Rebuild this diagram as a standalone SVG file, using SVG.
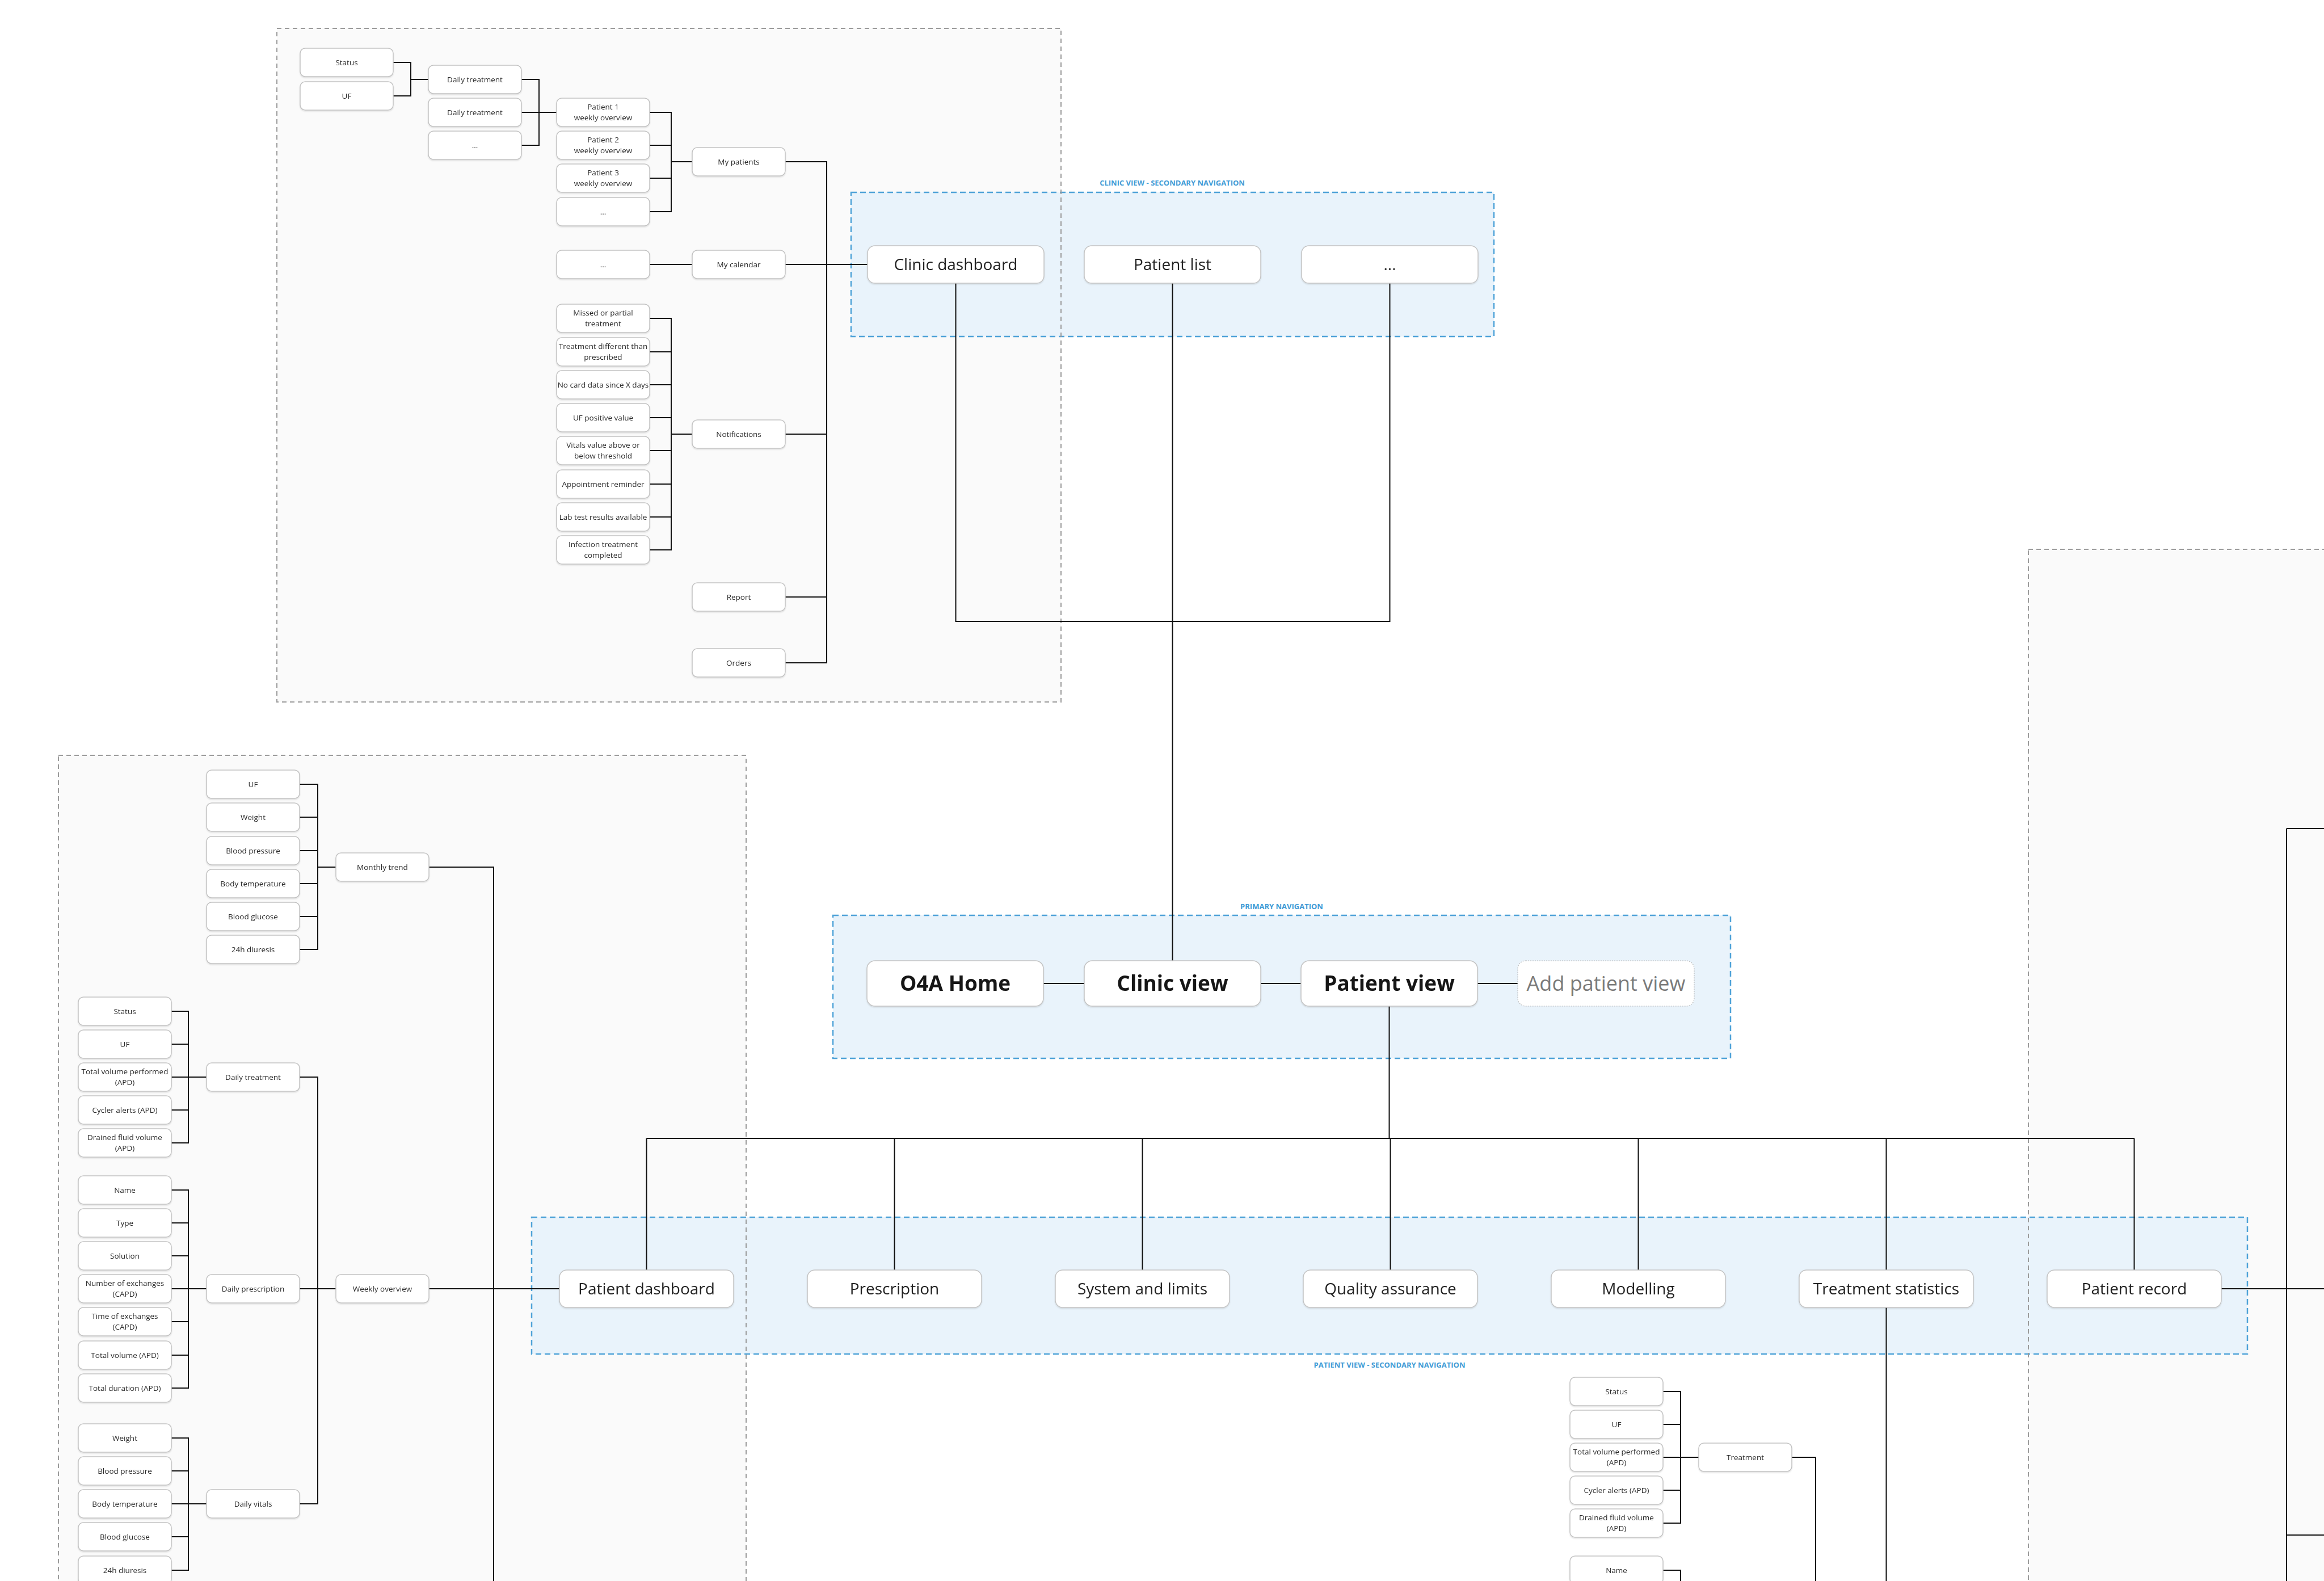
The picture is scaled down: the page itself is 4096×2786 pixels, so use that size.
<svg xmlns="http://www.w3.org/2000/svg" width="4096" height="2786" viewBox="0 0 4096 2786">
<defs>
<style>
.bg{fill:#ffffff}
.grpfill{fill:#fafafa;stroke:none}
.grp{fill:none;stroke:#9b9b9b;stroke-width:2;stroke-dasharray:8 6}
.nav{fill:#e9f3fb;stroke:#4ea2d8;stroke-width:2.5;stroke-dasharray:10 6}
.navlbl{font-family:"Open Sans","Liberation Sans",sans-serif;font-weight:700;font-size:13px;fill:#3f9bd6;text-anchor:middle}
.n{fill:#ffffff;stroke:#c4c4c4;stroke-width:1.5}
.ng{fill:#ffffff;stroke:#b8b8b8;stroke-width:1.2;stroke-dasharray:2 2}
.t{font-family:"Open Sans","Liberation Sans",sans-serif;font-size:13.5px;fill:#2a2a2a;text-anchor:middle}
.tm{font-family:"Open Sans","Liberation Sans",sans-serif;font-size:28px;fill:#222;text-anchor:middle}
.tb{font-family:"Open Sans","Liberation Sans",sans-serif;font-size:37px;font-weight:700;fill:#161616;text-anchor:middle}
.tg{font-family:"Open Sans","Liberation Sans",sans-serif;font-size:36px;fill:#7a7a7a;text-anchor:middle}
.c{fill:none;stroke:#111;stroke-width:2}
</style>
<filter id="sh" x="-10%" y="-10%" width="120%" height="130%">
<feDropShadow dx="0" dy="1.5" stdDeviation="1" flood-color="#000" flood-opacity="0.12"/>
</filter>
</defs>
<rect class="bg" x="0" y="0" width="4096" height="2786"/>

<g id="container-fills">
<rect class="grpfill" x="488" y="50" width="1382" height="1187"/>
<rect class="grpfill" x="103" y="1331" width="1212" height="1600"/>
<rect class="grpfill" x="3575" y="968" width="700" height="2000"/>
</g>

<g id="nav-areas">
<rect id="clinic-secondary-nav" class="nav" x="1500" y="339" width="1133" height="254"/>
<text class="navlbl" x="2066" y="327">CLINIC VIEW - SECONDARY NAVIGATION</text>
<rect id="primary-nav" class="nav" x="1468" y="1613" width="1582" height="252"/>
<text class="navlbl" x="2259" y="1602">PRIMARY NAVIGATION</text>
<rect id="patient-secondary-nav" class="nav" x="937" y="2145" width="3024" height="241"/>
<text class="navlbl" x="2449" y="2410">PATIENT VIEW - SECONDARY NAVIGATION</text>
</g>

<g id="containers">
<rect id="clinic-group" class="grp" x="488" y="50" width="1382" height="1187"/>
<rect id="patient-dashboard-group" class="grp" x="103" y="1331" width="1212" height="1600"/>
<rect id="patient-record-group" class="grp" x="3575" y="968" width="700" height="2000"/>
</g>

<g id="connectors">
<path class="c" d="M693 110H724V169H693M724 140H755"/>
<path class="c" d="M919 140H950V256H919M919 198H981"/>
<path class="c" d="M1145 198H1183V373H1145M1145 256H1183M1145 314H1183M1183 285H1220"/>
<path class="c" d="M1145 466H1220"/>
<path class="c" d="M1145 561H1183V969H1145M1145 620H1183M1145 678H1183M1145 736H1183M1145 794H1183M1145 853H1183M1145 911H1183M1183 765H1220"/>
<path class="c" d="M1384 285H1457V1168H1384M1384 466H1529M1384 765H1457M1384 1052H1457"/>
<path class="c" d="M1684.5 499V1095H2449.5V499M2066.5 499V1693"/>
<path class="c" d="M1839 1733H1911M2221 1733H2293M2604 1733H2675"/>
<path class="c" d="M2448.5 1773V2006M1139.5 2006H3761.5M1139.5 2006V2238M1576.5 2006V2238M2013.5 2006V2238M2450.5 2006V2238M2887.5 2006V2238M3324.5 2006V2238M3761.5 2006V2238"/>
<path class="c" d="M528 1382H560V1673H528M528 1440H560M528 1499H560M528 1557H560M528 1615H560M560 1528H592"/>
<path class="c" d="M302 1782H332V2014H302M302 1840H332M302 1898H364M302 1956H332"/>
<path class="c" d="M302 2097H332V2446H302M302 2155H332M302 2213H332M302 2271H364M302 2329H332M302 2388H332"/>
<path class="c" d="M302 2534H332V2767H302M302 2592H332M302 2650H364M302 2708H332"/>
<path class="c" d="M528 1898H560V2650H528M528 2271H592"/>
<path class="c" d="M756 1528H870V2786M756 2271H986"/>
<path class="c" d="M3324.5 2304V2786"/>
<path class="c" d="M2931 2452H2962V2684H2931M2931 2510H2962M2931 2568H2994M2931 2626H2962"/>
<path class="c" d="M2931 2767H2962V2786"/>
<path class="c" d="M3158 2568H3200V2786"/>
<path class="c" d="M3915 2271H4096M4030 1460V2786M4030 1460H4096M4030 2705H4096"/>
</g>

<g id="node-status-1" filter="url(#sh)"><rect class="n" x="529" y="85" width="164" height="50" rx="9"/><text class="t" x="611" y="115">Status</text></g>
<g id="node-uf-1" filter="url(#sh)"><rect class="n" x="529" y="144" width="164" height="50" rx="9"/><text class="t" x="611" y="174">UF</text></g>
<g id="node-daily-treatment-a" filter="url(#sh)"><rect class="n" x="755" y="115" width="164" height="50" rx="9"/><text class="t" x="837" y="145">Daily treatment</text></g>
<g id="node-daily-treatment-b" filter="url(#sh)"><rect class="n" x="755" y="173" width="164" height="50" rx="9"/><text class="t" x="837" y="203">Daily treatment</text></g>
<g id="node-dots-a" filter="url(#sh)"><rect class="n" x="755" y="231" width="164" height="50" rx="9"/><text class="t" x="837" y="261">...</text></g>
<g id="node-patient1" filter="url(#sh)"><rect class="n" x="981" y="173" width="164" height="50" rx="9"/><text class="t" x="1063" y="193">Patient 1</text><text class="t" x="1063" y="212">weekly overview</text></g>
<g id="node-patient2" filter="url(#sh)"><rect class="n" x="981" y="231" width="164" height="50" rx="9"/><text class="t" x="1063" y="251">Patient 2</text><text class="t" x="1063" y="270">weekly overview</text></g>
<g id="node-patient3" filter="url(#sh)"><rect class="n" x="981" y="289" width="164" height="50" rx="9"/><text class="t" x="1063" y="309">Patient 3</text><text class="t" x="1063" y="328">weekly overview</text></g>
<g id="node-dots-b" filter="url(#sh)"><rect class="n" x="981" y="348" width="164" height="50" rx="9"/><text class="t" x="1063" y="378">...</text></g>
<g id="node-dots-c" filter="url(#sh)"><rect class="n" x="981" y="441" width="164" height="50" rx="9"/><text class="t" x="1063" y="471">...</text></g>
<g id="node-missed" filter="url(#sh)"><rect class="n" x="981" y="536" width="164" height="50" rx="9"/><text class="t" x="1063" y="556">Missed or partial</text><text class="t" x="1063" y="575">treatment</text></g>
<g id="node-different" filter="url(#sh)"><rect class="n" x="981" y="595" width="164" height="50" rx="9"/><text class="t" x="1063" y="615">Treatment different than</text><text class="t" x="1063" y="634">prescribed</text></g>
<g id="node-nocard" filter="url(#sh)"><rect class="n" x="981" y="653" width="164" height="50" rx="9"/><text class="t" x="1063" y="683">No card data since X days</text></g>
<g id="node-ufpos" filter="url(#sh)"><rect class="n" x="981" y="711" width="164" height="50" rx="9"/><text class="t" x="1063" y="741">UF positive value</text></g>
<g id="node-vitals" filter="url(#sh)"><rect class="n" x="981" y="769" width="164" height="50" rx="9"/><text class="t" x="1063" y="789">Vitals value above or</text><text class="t" x="1063" y="808">below threshold</text></g>
<g id="node-appointment" filter="url(#sh)"><rect class="n" x="981" y="828" width="164" height="50" rx="9"/><text class="t" x="1063" y="858">Appointment reminder</text></g>
<g id="node-lab" filter="url(#sh)"><rect class="n" x="981" y="886" width="164" height="50" rx="9"/><text class="t" x="1063" y="916">Lab test results available</text></g>
<g id="node-infection" filter="url(#sh)"><rect class="n" x="981" y="944" width="164" height="50" rx="9"/><text class="t" x="1063" y="964">Infection treatment</text><text class="t" x="1063" y="983">completed</text></g>
<g id="node-my-patients" filter="url(#sh)"><rect class="n" x="1220" y="260" width="164" height="50" rx="9"/><text class="t" x="1302" y="290">My patients</text></g>
<g id="node-my-calendar" filter="url(#sh)"><rect class="n" x="1220" y="441" width="164" height="50" rx="9"/><text class="t" x="1302" y="471">My calendar</text></g>
<g id="node-notifications" filter="url(#sh)"><rect class="n" x="1220" y="740" width="164" height="50" rx="9"/><text class="t" x="1302" y="770">Notifications</text></g>
<g id="node-report" filter="url(#sh)"><rect class="n" x="1220" y="1027" width="164" height="50" rx="9"/><text class="t" x="1302" y="1057">Report</text></g>
<g id="node-orders" filter="url(#sh)"><rect class="n" x="1220" y="1143" width="164" height="50" rx="9"/><text class="t" x="1302" y="1173">Orders</text></g>

<g id="node-clinic-dashboard" filter="url(#sh)"><rect class="n" x="1529" y="433" width="311" height="66" rx="13"/><text class="tm" x="1684.5" y="476">Clinic dashboard</text></g>
<g id="node-patient-list" filter="url(#sh)"><rect class="n" x="1911" y="433" width="311" height="66" rx="13"/><text class="tm" x="2066.5" y="476">Patient list</text></g>
<g id="node-clinic-more" filter="url(#sh)"><rect class="n" x="2294" y="433" width="311" height="66" rx="13"/><text class="tm" x="2449.5" y="476">...</text></g>

<g id="node-o4a-home" filter="url(#sh)"><rect class="n" x="1528" y="1693" width="311" height="80" rx="14"/><text class="tb" x="1683.5" y="1746">O4A Home</text></g>
<g id="node-clinic-view" filter="url(#sh)"><rect class="n" x="1911" y="1693" width="311" height="80" rx="14"/><text class="tb" x="2066.5" y="1746">Clinic view</text></g>
<g id="node-patient-view" filter="url(#sh)"><rect class="n" x="2293" y="1693" width="311" height="80" rx="14"/><text class="tb" x="2448.5" y="1746">Patient view</text></g>
<g id="node-add-patient-view"><rect class="ng" x="2675" y="1693" width="311" height="80" rx="14"/><text class="tg" x="2830.5" y="1746">Add patient view</text></g>

<g id="node-patient-dashboard" filter="url(#sh)"><rect class="n" x="986" y="2238" width="307" height="66" rx="13"/><text class="tm" x="1139.5" y="2281">Patient dashboard</text></g>
<g id="node-prescription" filter="url(#sh)"><rect class="n" x="1423" y="2238" width="307" height="66" rx="13"/><text class="tm" x="1576.5" y="2281">Prescription</text></g>
<g id="node-system-limits" filter="url(#sh)"><rect class="n" x="1860" y="2238" width="307" height="66" rx="13"/><text class="tm" x="2013.5" y="2281">System and limits</text></g>
<g id="node-quality" filter="url(#sh)"><rect class="n" x="2297" y="2238" width="307" height="66" rx="13"/><text class="tm" x="2450.5" y="2281">Quality assurance</text></g>
<g id="node-modelling" filter="url(#sh)"><rect class="n" x="2734" y="2238" width="307" height="66" rx="13"/><text class="tm" x="2887.5" y="2281">Modelling</text></g>
<g id="node-treatment-statistics" filter="url(#sh)"><rect class="n" x="3171" y="2238" width="307" height="66" rx="13"/><text class="tm" x="3324.5" y="2281">Treatment statistics</text></g>
<g id="node-patient-record" filter="url(#sh)"><rect class="n" x="3608" y="2238" width="307" height="66" rx="13"/><text class="tm" x="3761.5" y="2281">Patient record</text></g>

<g id="node-m-uf" filter="url(#sh)"><rect class="n" x="364" y="1357" width="164" height="50" rx="9"/><text class="t" x="446" y="1387">UF</text></g>
<g id="node-m-weight" filter="url(#sh)"><rect class="n" x="364" y="1415" width="164" height="50" rx="9"/><text class="t" x="446" y="1445">Weight</text></g>
<g id="node-m-bp" filter="url(#sh)"><rect class="n" x="364" y="1474" width="164" height="50" rx="9"/><text class="t" x="446" y="1504">Blood pressure</text></g>
<g id="node-m-temp" filter="url(#sh)"><rect class="n" x="364" y="1532" width="164" height="50" rx="9"/><text class="t" x="446" y="1562">Body temperature</text></g>
<g id="node-m-glucose" filter="url(#sh)"><rect class="n" x="364" y="1590" width="164" height="50" rx="9"/><text class="t" x="446" y="1620">Blood glucose</text></g>
<g id="node-m-diuresis" filter="url(#sh)"><rect class="n" x="364" y="1648" width="164" height="50" rx="9"/><text class="t" x="446" y="1678">24h diuresis</text></g>
<g id="node-monthly-trend" filter="url(#sh)"><rect class="n" x="592" y="1503" width="164" height="50" rx="9"/><text class="t" x="674" y="1533">Monthly trend</text></g>

<g id="node-dt-status" filter="url(#sh)"><rect class="n" x="138" y="1757" width="164" height="50" rx="9"/><text class="t" x="220" y="1787">Status</text></g>
<g id="node-dt-uf" filter="url(#sh)"><rect class="n" x="138" y="1815" width="164" height="50" rx="9"/><text class="t" x="220" y="1845">UF</text></g>
<g id="node-dt-total" filter="url(#sh)"><rect class="n" x="138" y="1873" width="164" height="50" rx="9"/><text class="t" x="220" y="1893">Total volume performed</text><text class="t" x="220" y="1912">(APD)</text></g>
<g id="node-dt-cycler" filter="url(#sh)"><rect class="n" x="138" y="1931" width="164" height="50" rx="9"/><text class="t" x="220" y="1961">Cycler alerts (APD)</text></g>
<g id="node-dt-drained" filter="url(#sh)"><rect class="n" x="138" y="1989" width="164" height="50" rx="9"/><text class="t" x="220" y="2009">Drained fluid volume</text><text class="t" x="220" y="2028">(APD)</text></g>
<g id="node-daily-treatment" filter="url(#sh)"><rect class="n" x="364" y="1873" width="164" height="50" rx="9"/><text class="t" x="446" y="1903">Daily treatment</text></g>

<g id="node-dp-name" filter="url(#sh)"><rect class="n" x="138" y="2072" width="164" height="50" rx="9"/><text class="t" x="220" y="2102">Name</text></g>
<g id="node-dp-type" filter="url(#sh)"><rect class="n" x="138" y="2130" width="164" height="50" rx="9"/><text class="t" x="220" y="2160">Type</text></g>
<g id="node-dp-solution" filter="url(#sh)"><rect class="n" x="138" y="2188" width="164" height="50" rx="9"/><text class="t" x="220" y="2218">Solution</text></g>
<g id="node-dp-number" filter="url(#sh)"><rect class="n" x="138" y="2246" width="164" height="50" rx="9"/><text class="t" x="220" y="2266">Number of exchanges</text><text class="t" x="220" y="2285">(CAPD)</text></g>
<g id="node-dp-time" filter="url(#sh)"><rect class="n" x="138" y="2304" width="164" height="50" rx="9"/><text class="t" x="220" y="2324">Time of exchanges</text><text class="t" x="220" y="2343">(CAPD)</text></g>
<g id="node-dp-volume" filter="url(#sh)"><rect class="n" x="138" y="2363" width="164" height="50" rx="9"/><text class="t" x="220" y="2393">Total volume (APD)</text></g>
<g id="node-dp-duration" filter="url(#sh)"><rect class="n" x="138" y="2421" width="164" height="50" rx="9"/><text class="t" x="220" y="2451">Total duration (APD)</text></g>
<g id="node-daily-prescription" filter="url(#sh)"><rect class="n" x="364" y="2246" width="164" height="50" rx="9"/><text class="t" x="446" y="2276">Daily prescription</text></g>
<g id="node-weekly-overview" filter="url(#sh)"><rect class="n" x="592" y="2246" width="164" height="50" rx="9"/><text class="t" x="674" y="2276">Weekly overview</text></g>

<g id="node-dv-weight" filter="url(#sh)"><rect class="n" x="138" y="2509" width="164" height="50" rx="9"/><text class="t" x="220" y="2539">Weight</text></g>
<g id="node-dv-bp" filter="url(#sh)"><rect class="n" x="138" y="2567" width="164" height="50" rx="9"/><text class="t" x="220" y="2597">Blood pressure</text></g>
<g id="node-dv-temp" filter="url(#sh)"><rect class="n" x="138" y="2625" width="164" height="50" rx="9"/><text class="t" x="220" y="2655">Body temperature</text></g>
<g id="node-dv-glucose" filter="url(#sh)"><rect class="n" x="138" y="2683" width="164" height="50" rx="9"/><text class="t" x="220" y="2713">Blood glucose</text></g>
<g id="node-dv-diuresis" filter="url(#sh)"><rect class="n" x="138" y="2742" width="164" height="50" rx="9"/><text class="t" x="220" y="2772">24h diuresis</text></g>
<g id="node-daily-vitals" filter="url(#sh)"><rect class="n" x="364" y="2625" width="164" height="50" rx="9"/><text class="t" x="446" y="2655">Daily vitals</text></g>

<g id="node-ts-status" filter="url(#sh)"><rect class="n" x="2767" y="2427" width="164" height="50" rx="9"/><text class="t" x="2849" y="2457">Status</text></g>
<g id="node-ts-uf" filter="url(#sh)"><rect class="n" x="2767" y="2485" width="164" height="50" rx="9"/><text class="t" x="2849" y="2515">UF</text></g>
<g id="node-ts-total" filter="url(#sh)"><rect class="n" x="2767" y="2543" width="164" height="50" rx="9"/><text class="t" x="2849" y="2563">Total volume performed</text><text class="t" x="2849" y="2582">(APD)</text></g>
<g id="node-ts-cycler" filter="url(#sh)"><rect class="n" x="2767" y="2601" width="164" height="50" rx="9"/><text class="t" x="2849" y="2631">Cycler alerts (APD)</text></g>
<g id="node-ts-drained" filter="url(#sh)"><rect class="n" x="2767" y="2659" width="164" height="50" rx="9"/><text class="t" x="2849" y="2679">Drained fluid volume</text><text class="t" x="2849" y="2698">(APD)</text></g>
<g id="node-ts-name" filter="url(#sh)"><rect class="n" x="2767" y="2742" width="164" height="50" rx="9"/><text class="t" x="2849" y="2772">Name</text></g>
<g id="node-treatment" filter="url(#sh)"><rect class="n" x="2994" y="2543" width="164" height="50" rx="9"/><text class="t" x="3076" y="2573">Treatment</text></g>
</svg>
